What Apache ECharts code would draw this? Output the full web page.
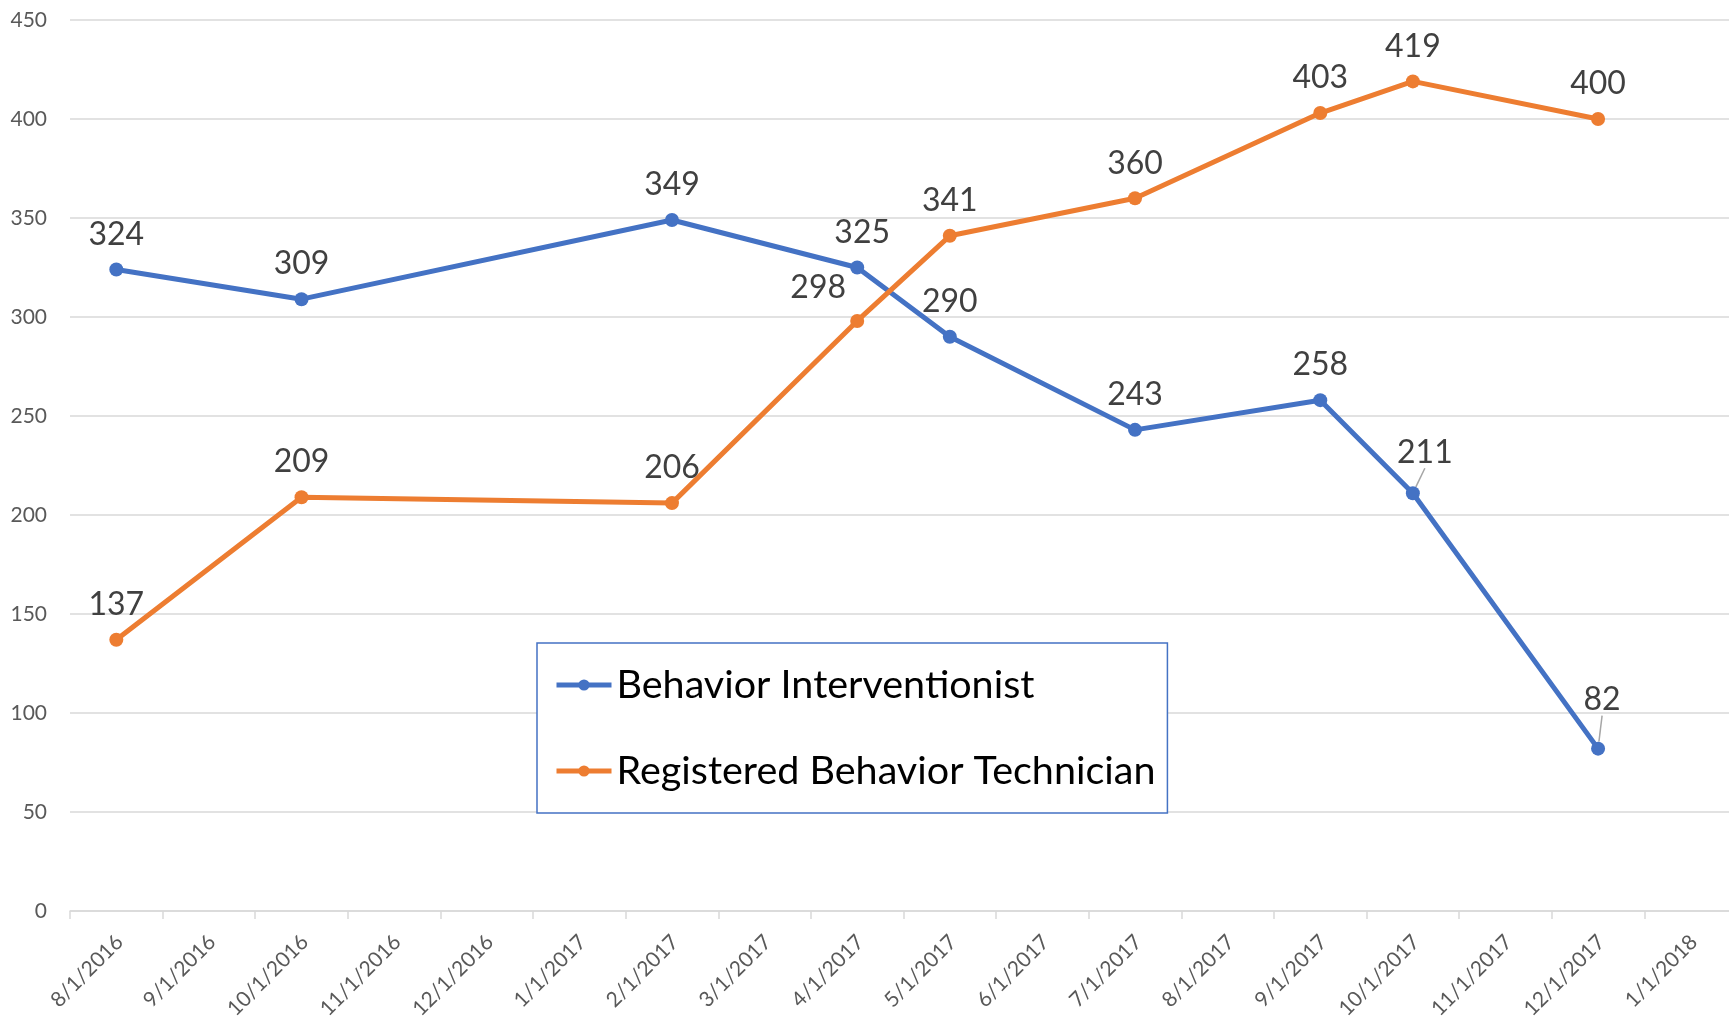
<!DOCTYPE html>
<html>
<head>
<meta charset="utf-8">
<script src="https://cdn.jsdelivr.net/npm/echarts@6/dist/echarts.min.js"></script>
<style>
  html, body { margin: 0; padding: 0; background: #fff; }
  #main { width: 1729px; height: 1024px; }
</style>
</head>
<body>
<div id="main"></div>
<script>
// 横轴刻度（按月）
var tickLabels = ['8/1/2016', '9/1/2016', '10/1/2016', '11/1/2016', '12/1/2016', '1/1/2017',
  '2/1/2017', '3/1/2017', '4/1/2017', '5/1/2017', '6/1/2017', '7/1/2017', '8/1/2017',
  '9/1/2017', '10/1/2017', '11/1/2017', '12/1/2017', '1/1/2018', '2/1/2018'];
// 数据所在月份
var months = ['8/1/2016', '10/1/2016', '2/1/2017', '4/1/2017', '5/1/2017', '7/1/2017',
  '9/1/2017', '10/1/2017', '12/1/2017'];
// 两条线的数值
var interventionist = [324, 309, 349, 325, 290, 243, 258, 211, 82];
var technician = [137, 209, 206, 298, 341, 360, 403, 419, 400];
var seriesNames = ['Behavior Interventionist', 'Registered Behavior Technician'];
var yTicks = [0, 50, 100, 150, 200, 250, 300, 350, 400, 450];

// 个别数据标签的偏移 [dx, dy]，以及需要引导线的点
var labelShift = {
  0: { 3: [5, 0], 7: [12, -6], 8: [4, -14] },
  1: { 3: [-39, 2] }
};
var leaderLine = { 0: [7, 8], 1: [] };

var font = 'Lato, "Open Sans", sans-serif';

function buildData(values, si) {
  return values.map(function (v, i) {
    var item = { value: [tickLabels.indexOf(months[i]) + 0.5, v] };
    if (leaderLine[si].indexOf(i) >= 0) {
      item.labelLine = { show: true, lineStyle: { color: '#a6a6a6', width: 1.5 } };
    }
    return item;
  });
}

function makeSeries(name, values, color, si) {
  return {
    name: name,
    type: 'line',
    data: buildData(values, si),
    symbol: 'circle',
    symbolSize: 14,
    lineStyle: { color: color, width: 5 },
    itemStyle: { color: color },
    label: {
      show: true,
      position: 'top',
      distance: 12,
      color: '#404040',
      fontFamily: font,
      fontSize: 32,
      formatter: function (p) { return p.value[1]; }
    },
    labelLayout: function (p) {
      var s = labelShift[si][p.dataIndex];
      return s ? { dx: s[0], dy: s[1] } : {};
    },
    emphasis: { disabled: true }
  };
}

var myChart = echarts.init(document.getElementById('main'));
var option = {
  animation: false,
  backgroundColor: '#fff',
  grid: { left: 70, right: -8, top: 20, bottom: 113, containLabel: false, outerBoundsMode: 'none' },
  xAxis: {
    type: 'value',
    min: 0,
    max: tickLabels.length - 1,
    interval: 1,
    axisLine: { show: true, lineStyle: { color: '#d9d9d9', width: 1.5 } },
    axisTick: { show: true, length: 8, lineStyle: { color: '#d9d9d9', width: 1.5 } },
    splitLine: { show: false },
    axisLabel: {
      rotate: 45,
      margin: 77,
      padding: [0, -70, 0, 0],
      color: '#595959',
      fontFamily: font,
      fontSize: 21,
      showMaxLabel: false,
      formatter: function (v) { return v === tickLabels.length - 1 ? '' : (tickLabels[v] || ''); }
    }
  },
  yAxis: {
    type: 'value',
    min: yTicks[0],
    max: yTicks[yTicks.length - 1],
    interval: yTicks[1] - yTicks[0],
    axisLine: { show: false },
    axisTick: { show: false },
    splitLine: { lineStyle: { color: '#d9d9d9', width: 1.5 } },
    axisLabel: { margin: 23, color: '#595959', fontFamily: font, fontSize: 21 }
  },
  legend: {
    orient: 'vertical',
    left: 537,
    top: 643,
    padding: [20, 12, 20, 17],
    itemGap: 42,
    itemWidth: 55,
    itemHeight: 14,
    borderColor: '#4472C4',
    borderWidth: 1.5,
    backgroundColor: '#fff',
    lineStyle: { width: 5 },
    textStyle: { color: '#000', fontFamily: font, fontSize: 39.5, lineHeight: 44 },
    data: seriesNames
  },
  series: [
    makeSeries(seriesNames[0], interventionist, '#4472C4', 0),
    makeSeries(seriesNames[1], technician, '#ED7D31', 1)
  ]
};
myChart.setOption(option);
</script>
</body>
</html>
